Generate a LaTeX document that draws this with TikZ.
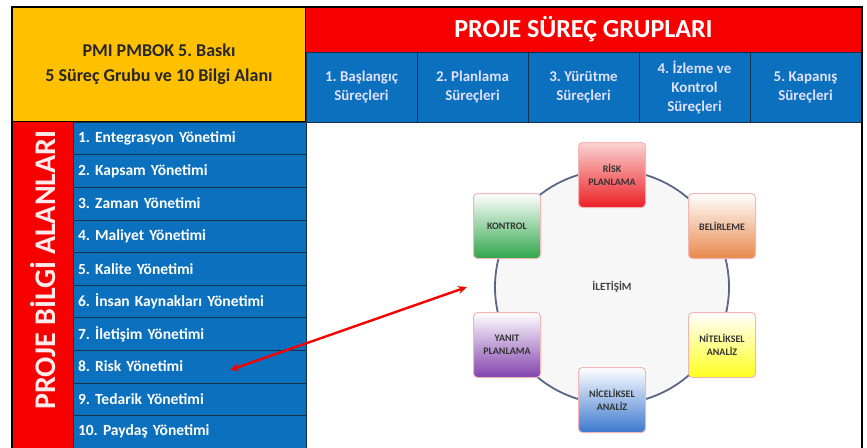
\documentclass[tikz,border=0pt]{standalone}
\usepackage{fontspec}
\setmainfont{Carlito}
\usetikzlibrary{positioning,arrows.meta}
\definecolor{pmiYellow}{HTML}{FFC000}
\definecolor{pmiRed}{HTML}{F60000}
\definecolor{pmiBlue}{HTML}{0B70BD}
\definecolor{cellLine}{HTML}{16304C}
\definecolor{ringLine}{HTML}{5A6686}
\definecolor{boxBorder}{HTML}{F2B6B6}
\definecolor{riskTop}{HTML}{FBD3D3}
\definecolor{riskBot}{HTML}{EC1F24}
\definecolor{ctrlBot}{HTML}{2FA64A}
\definecolor{identBot}{HTML}{E8894C}
\definecolor{qualBot}{HTML}{FFFF1E}
\definecolor{quantBot}{HTML}{3B78CF}
\definecolor{respBot}{HTML}{8142AE}
\frenchspacing

\begin{document}
\begin{tikzpicture}[x=1pt,y=-1pt,
  node distance=0pt,
  every node/.style={inner sep=0pt,outer sep=0pt},
  tcell/.style={draw=black,line width=1.2pt,fill=pmiYellow,
    minimum width=294pt,minimum height=115pt,align=center,text=black!85,
    font=\bfseries\fontsize{18}{25}\selectfont},
  hcell/.style={fill=pmiRed,minimum width=555pt,minimum height=45pt,
    text=white,font=\bfseries\fontsize{26}{30}\selectfont},
  ccell/.style={draw=cellLine,line width=0.6pt,fill=pmiBlue,
    minimum width=111pt,minimum height=70pt,align=center,text=white!88!blue,
    font=\bfseries\fontsize{15}{19}\selectfont},
  rcell/.style={draw=cellLine,line width=0.6pt,fill=pmiBlue,
    text width=223pt,inner xsep=5pt,minimum height=32.6pt,align=left,
    text=white,font=\bfseries\fontsize{15.5}{17}\selectfont},
  scell/.style={fill=pmiRed,minimum width=61pt,minimum height=330pt},
  slbl/.style={rotate=90,text=white!92!red,font=\bfseries\fontsize{30}{34}\selectfont},
  ring/.style={circle,draw=ringLine,line width=1.8pt,fill=black!3,
    minimum size=234pt,text=black!75,font=\bfseries\fontsize{11}{12}\selectfont},
  stepbox/.style={draw=boxBorder,line width=1pt,rounded corners=4pt,
    minimum width=67pt,minimum height=65pt,align=center,text=black!80,
    font=\bfseries\fontsize{10}{13}\selectfont},
  arr/.style={{Stealth[length=9pt,width=8pt]}-{Stealth[length=9pt,width=8pt]},
    line width=2.4pt,pmiRed}
]
  \useasboundingbox (0,0) rectangle (867,447);

  % --- top left title ---
  \node[tcell,anchor=north west] (t) at (12,7) {PMI PMBOK 5. Baskı\\5 Süreç Grubu ve 10 Bilgi Alanı};

  % --- process groups ---
  \node[hcell,anchor=north west] (h) at (306,7) {PROJE SÜREÇ GRUPLARI};
  \node[ccell,anchor=north west] (c1) at (306,52) {1. Başlangıç\\Süreçleri};
  \node[ccell,right=of c1] (c2) {2. Planlama\\Süreçleri};
  \node[ccell,right=of c2] (c3) {3. Yürütme\\Süreçleri};
  \node[ccell,right=of c3] (c4) {4. İzleme ve\\Kontrol\\Süreçleri};
  \node[ccell,right=of c4] (c5) {5. Kapanış\\Süreçleri};

  % --- knowledge areas ---
  \node[scell,anchor=north west] (s) at (12,122) {};
  \node[slbl] (sl) at (43,270) {PROJE BİLGİ ALANLARI};
  \node[rcell,anchor=north west] (r1) at (73,122) {1. Entegrasyon Yönetimi};
  \node[rcell,below=of r1] (r2) {2. Kapsam Yönetimi};
  \node[rcell,below=of r2] (r3) {3. Zaman Yönetimi};
  \node[rcell,below=of r3] (r4) {4. Maliyet Yönetimi};
  \node[rcell,below=of r4] (r5) {5. Kalite Yönetimi};
  \node[rcell,below=of r5] (r6) {6. İnsan Kaynakları Yönetimi};
  \node[rcell,below=of r6] (r7) {7. İletişim Yönetimi};
  \node[rcell,below=of r7] (r8) {8. Risk Yönetimi};
  \node[rcell,below=of r8] (r9) {9. Tedarik Yönetimi};
  \node[rcell,below=of r9] (r10) {10. Paydaş Yönetimi};

  % --- risk cycle ---
  \node[ring] (ring) at (612,287) {İLETİŞİM};
  \node[stepbox,top color=riskTop,bottom color=riskBot] (b1) at (612,175) {RİSK\\PLANLAMA};
  \node[stepbox,top color=white,bottom color=identBot] (b2) at (722,226) {BELİRLEME};
  \node[stepbox,top color=white,bottom color=qualBot] (b3) at (722,345) {NİTELİKSEL\\ANALİZ};
  \node[stepbox,top color=white,bottom color=quantBot] (b4) at (612,400) {NİCELİKSEL\\ANALİZ};
  \node[stepbox,top color=white,bottom color=respBot] (b5) at (507,345) {YANIT\\PLANLAMA};
  \node[stepbox,top color=white,bottom color=ctrlBot] (b6) at (507,226) {KONTROL};

  % --- link ---
  \coordinate (riskTip) at (230,370);
  \coordinate (ringTip) at (467,287);
  \draw[arr] (riskTip) -- (ringTip);

  % frame
  \draw[line width=2pt,black] (12,7) rectangle (862,460);
\end{tikzpicture}
\end{document}
